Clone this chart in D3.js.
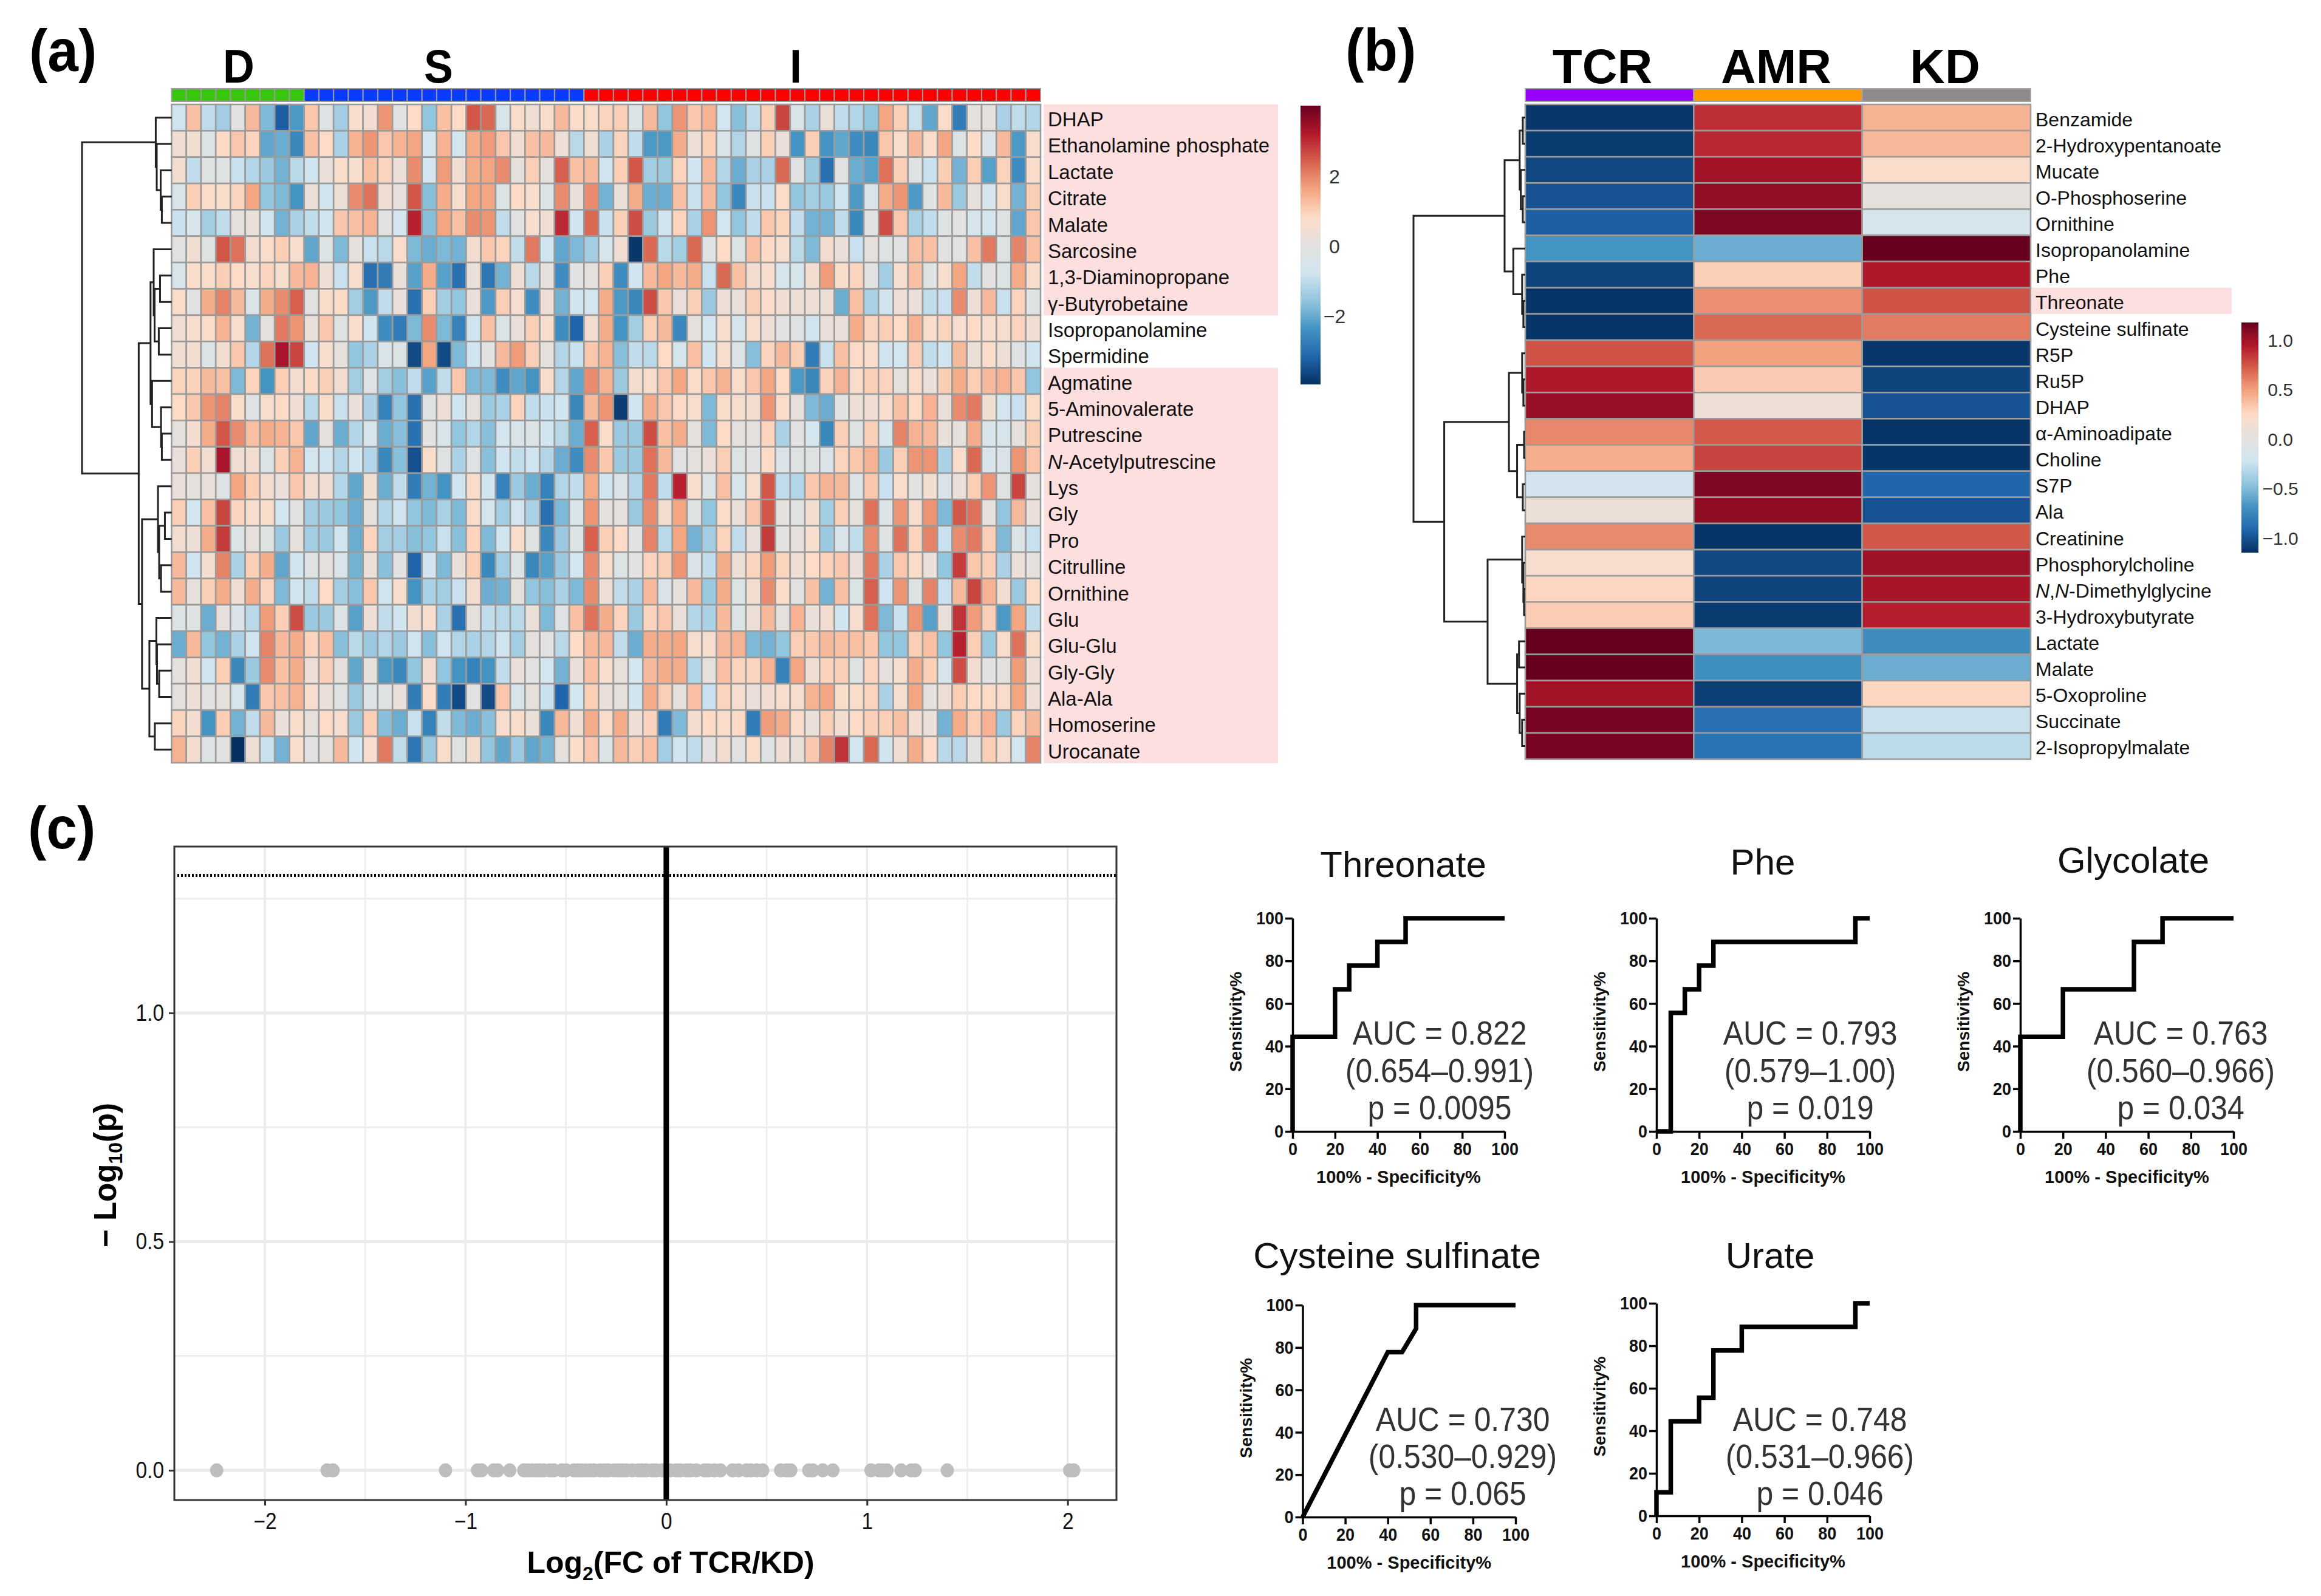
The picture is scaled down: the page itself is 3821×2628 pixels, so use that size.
<!DOCTYPE html>
<html><head><meta charset="utf-8">
<script src="https://cdnjs.cloudflare.com/ajax/libs/d3/7.8.5/d3.min.js"></script>
<style>html,body{margin:0;padding:0;background:#fff}svg{display:block}text{font-family:"Liberation Sans",Arial,sans-serif}</style>
</head><body><svg id="c" width="3821" height="2628" viewBox="0 0 3821 2628"></svg>
<script>
// ---------- panel (a) data ----------
const labelsA=["DHAP","Ethanolamine phosphate","Lactate","Citrate","Malate","Sarcosine","1,3-Diaminopropane","γ-Butyrobetaine","Isopropanolamine","Spermidine","Agmatine","5-Aminovalerate","Putrescine","N-Acetylputrescine","Lys","Gly","Pro","Citrulline","Ornithine","Glu","Glu-Glu","Gly-Gly","Ala-Ala","Homoserine","Urocanate"];
const pinkRowsA=[0,1,2,3,4,5,6,7,10,11,12,13,14,15,16,17,18,19,20,21,22,23,24];
const groupNamesA=["D","S","I"];
const groupCountsA=[9,19,31];
const rowDHAP=[-.8,1.2,-1,-1.4,-.1,1.3,-1.8,-3.3,-2.3,1.1,-.2,-1.4,.6,.5,1.8,-.2,.8,-1.6,1.2,.8,2.5,2.3,-.5,.7,.4,.7,1.3,.7,.7,.9,1,-.3,1.3,-1.6,1.8,1.1,1.4,-.7,-1.7,-1,1,2.7,-.4,-1.3,.2,-1,-1.2,-1.6,1.6,1,-.9,-2.1,.7,-2.8,.1,.1,-1.3,-1,-1.2];
const rowEtnP=[.4,.4,-.3,.8,1.1,.9,-2.1,-2,-2.6,1.2,.8,-1.3,1.4,1.8,1.1,1.4,1.6,-.7,1.4,-.7,1.5,1.7,1.1,.5,1.2,1.3,.3,-1.1,.4,-1.3,.9,-1,-2.3,-2.3,1.5,.3,1,-.5,-1.2,-.2,1,.2,-2.4,1,-2.4,-2.1,-2.5,-2.6,1.1,.7,1.3,.7,1.6,-.3,.8,-.4,1.3,-2.3,.6];
const rowLactate=[.5,-1,-.2,-.2,-.9,-1.2,-1.5,-1.9,-1.1,-.8,.2,.7,.6,1.2,.9,.3,1.9,-.7,1.7,.4,1.5,1.6,1.9,.1,1,.1,2.4,1.2,1.3,-.8,1,2.5,-1.4,-1.5,.9,-.8,1.3,-1.2,-2,-1.3,-1.3,2.3,-.1,-1.5,-3,-.1,-2,-2.2,2.2,1,-.2,-.9,1,-1.9,1,-2.2,.9,-2.5,.7];
const rowCitrate=[-.5,1,.7,.7,.9,1.6,-1.6,-1.8,-2.4,.2,-.8,.3,1.9,2.2,.4,.1,2.5,-1.7,1.5,.6,1.6,1.6,-.3,.8,.6,-.3,1.9,.2,1.9,-1.9,.2,1.5,-2,-2,1.2,-.9,1.3,-1.6,-2.6,-.9,-.9,.7,-1.6,-1.4,-1.5,-.8,-2.3,-.5,1.5,1.8,-2.3,-.2,1.3,-1.5,.1,-.6,.7,-1.9,1];
const rowMalate=[-.9,-.6,-1.4,-1,.1,.2,-.8,-1.9,-1.3,-1,-.8,1.1,1.2,1.4,-.1,-.7,3.1,-1.7,1.6,1.2,1.9,1.8,-1,-.1,.6,.4,3,-.8,2.3,-.9,1,2.6,-1.5,-.8,.9,-1.3,1.8,-.7,-1.6,-1,1.1,.9,-1,-1.9,-1.9,-1,-2.6,-.1,2.6,1.1,-1.3,-1,-.2,-.1,-.6,-.7,-.2,-2.1,1.1];
const rowSarcosine=[-.1,.4,-.2,2.5,2.2,.5,.7,1,.6,-2.1,-.3,-1.8,.1,-.9,-1.1,.7,-1.8,-2,-1.8,-1.9,.5,1.1,.9,-1,2.1,-.8,-2.1,-1.8,-1.4,-.6,.4,-3.9,2.3,-1.1,-1.4,2.3,-.2,.8,-.3,1.2,.8,.6,-1.1,-1.8,.5,.2,-.9,.1,-.2,-.1,1.2,1.2,-.1,-.1,1.2,2.1,-.2,2,1.2];
const rowDAP=[-.5,.7,.7,1,.8,.6,.9,.6,1.3,1.4,.3,-.9,.6,-3,-2.8,.2,-2.2,1.5,-2.2,-3,.2,-2.9,-1.9,.3,-1.1,.1,-2.5,-.1,.1,1,-2.5,-.8,1.3,1.6,1.3,1.5,-.9,2.3,1.2,.5,.6,-.6,-.6,.5,1.7,.7,.9,-.1,-1.4,.6,1.2,-.2,.6,1.6,-1,0,-.3,1.5,.6];
const rowGBB=[.7,-.1,1.5,2,1.3,-.4,1.5,1.9,2.4,0,.7,.8,-1.4,-2.3,-1,.2,-3,1,-1.4,-1.6,.2,-2.3,1,.6,-2.5,.3,-1.9,-.8,-.7,1.5,-2.3,-2.6,2.6,1.1,.2,1,-1.5,.3,.2,1,.7,.4,.3,.3,.3,-2,1.2,-1.3,-.8,.3,.2,-1,-.9,1.9,.3,1.3,-.9,.9,-.2];
const rowIsoprop=[.4,.6,.7,1.4,.6,-1.9,.1,2.1,1.8,.2,1.1,-.2,.7,-.8,-2.5,-2.8,-1.8,1.9,-1.8,-2.7,-.8,1.2,-.3,.2,1,.6,-2.5,-3.2,.5,1.5,-2.4,-1.4,1,1.3,-2.6,.1,-.7,.6,-.6,.6,.3,-.1,-.2,-.8,.2,.2,1.5,.9,1,.8,1.4,.7,.9,.6,.8,.6,.6,.9,.4];
const rowSpermidine=[.4,.5,-.3,.5,1.1,-1.2,2.2,3.3,2.7,-.8,.6,.1,-1.6,-1.3,-.5,-.3,-3.6,1.6,-3.6,-1.8,-.8,-.1,1.3,1.7,1,.1,-1.2,-.9,1.1,1.4,-1.7,-1,-1.1,.8,-.6,1.2,-.8,.6,-.3,-1.7,.9,1.3,1,-2.8,-.9,1.2,.8,.7,-.8,-.7,1,-1,-.8,1.3,.3,.7,.3,-.2,-.8];
const rowAgmatine=[.9,.9,1.3,1.2,-1.8,.9,-2.4,1,.5,.8,1,.5,-1.4,-.2,-1.4,-1.7,-1,-2.2,-1,1.1,-1.8,-1.8,-2.5,-2.1,-2.4,.6,-1.2,-2.1,1.9,1.4,-1.5,.5,.7,1.1,1.6,.7,1.1,1.4,.7,1.1,1.6,.8,-2.3,-2.6,.9,1.4,.7,1,.9,.1,.7,.2,1,1.5,1,1.3,1.4,1.1,-1.6];
const row5AV=[.8,1.1,1.8,2,.7,-.2,.6,.8,.4,-1.1,.7,-.9,.2,-1.3,-2.7,-1.6,-3,-.2,.3,-.8,.1,-1.5,-1.3,.9,-1,-.9,-.8,-2.6,1.3,1.8,-3.8,-.8,1.5,1.1,.8,.6,-1.8,.7,.6,.5,1.8,.7,.1,-1.8,-2,-.1,.3,.4,.6,1.2,.8,1.4,.2,1.9,2.1,.4,-.7,-.9,.7];
const rowPutrescine=[.1,.5,1.5,2.5,1.9,1.2,1.5,1.4,1.1,-2.1,0,-2,-1.2,-.6,-2,-1.7,-3,-.1,-.5,-1.6,-1.2,-1.7,-.7,-.5,-.3,-.8,-1.1,-2,2.4,.7,-1.5,-1.5,2.6,1.2,1.5,.1,-1.8,.8,.1,.1,.9,-1.3,-.1,-.7,-2.6,1,-.2,1,-.6,2,1.4,1.3,.2,.1,1.5,-.5,-.6,.1,1];
const rowNAP=[.2,1,.5,3.3,.4,.5,-.3,1,1.4,-.7,-.8,-1.2,-.8,-1.2,-2.6,-1.7,-3.5,.7,-.2,-1.3,-.2,-1.7,-.8,-1,-.8,-1.2,-2,-2.5,1.9,1.1,-1.5,-1.5,2.2,1.3,-.1,.1,.2,1,-.3,-.1,.8,-.4,-.2,-.2,-.4,.9,1.1,1.4,-1.5,1,1.8,1.8,-1.3,.7,2.3,-.5,-.4,1.8,1.1];
const rowLys=[.2,.1,.2,-.2,1.6,1,.5,.2,1.1,.5,.4,-1.2,-2.1,.4,-2,-1,-2.8,-1.9,-2.4,-.8,.7,-.8,-2.7,-1.5,-2,-2.7,-1.2,-1,1.5,-.8,-.4,-1.2,2.1,-1,3.1,.6,-.3,1.2,-.6,.6,2.5,-1,-1.2,1.1,1.4,1.3,-.3,1.1,-.9,.7,-.1,.5,-.4,.2,1,1.8,-.2,2.7,.1];
const rowGly=[1,-.7,1.2,2.7,.9,.6,.7,-.7,-.1,-1.4,-1.5,-1.6,-2,.1,-1.2,-.8,-1.6,-1.8,-1.3,-1.8,.7,-.7,-1.4,-.7,-1.3,-3,-1.8,-.5,1.8,.1,.1,-1.5,1.9,.5,1.6,-.2,-1.6,.7,.2,1.1,2.5,.1,-.1,.5,-1.4,1,.1,2.2,-.3,1.8,.6,1.8,-1.8,2.5,2.2,.1,-1.6,1.3,.2];
const rowPro=[.5,.3,1.5,2.8,-.3,.1,-.2,-1.5,.1,-1.4,-1.5,-.8,-2,.9,-1.4,-1.4,-1.7,-1.6,-.9,-1.7,.9,-1.8,-.8,.7,-.2,-2.6,-1.5,-.3,2.4,1,.8,-.1,2,-1.1,1.6,-1.9,-1.4,.9,-1,.2,2.8,-.1,.1,.6,-1.5,-.5,-1,1.9,-.2,2.2,.9,2,-.9,1.9,2.1,1,-1.8,-.3,-.9];
const rowCitrulline=[1.3,-.8,.5,2,-1.3,1,1.5,-2.1,-.8,-.2,.1,-.5,-1.9,.2,-1.7,-.1,-3.2,-.8,-1.8,.2,1,-2.6,-1.4,-.3,-2.6,-2.2,-1.5,-.7,1.9,.6,-.3,-.1,.9,1,1.8,-.4,-1,1.5,.3,.9,1.7,.9,.4,.8,.9,1.1,.2,2.1,-1.3,1.1,.7,.2,-1.6,2.8,1.1,1,-1.3,.2,.1];
const rowOrnithine=[1.3,.1,1,1.5,.4,1.5,.9,-1.8,-.8,-1,.8,-1.4,-1.7,1.1,-.8,.6,-2.4,-1.3,-1.4,-.9,.5,-2,-1.9,.1,-1.6,-1.7,-1.3,-1.8,1.9,.3,-1,-1.3,1.3,-.4,.1,1.3,-1.5,1.5,-.3,.5,1.9,.7,-.1,1.2,-1.9,1.2,-.3,2.4,-.8,1.8,-.2,2,-.9,1.3,2.7,1.4,.5,-1.5,.7];
const rowGlu=[-.3,-.2,-2,.1,-.4,-1.1,1.7,1,2.6,-1.5,-1.5,-.3,-2.2,.3,-1,-.8,.5,.6,-1.3,-3,.1,-1,-1.1,-1.1,.2,-1.8,-.2,1.2,2.2,1.5,.9,-1.5,.9,1.1,.2,-1.2,-1.3,1.3,-.3,.3,1.3,.1,1.4,.2,.5,-.8,.6,2.2,-1.8,-.9,1.8,-2.2,.2,2.9,1.7,1,-2.3,1.6,-1];
const rowGluGlu=[-2,1.3,-1.6,-1.9,-1.3,-.8,2,1.3,1.5,.9,1.2,-1.7,-1.1,-1.5,-1.2,-1.5,-.8,-1.7,-.8,-1.2,-1.3,-1.2,-.8,-1.4,.1,-.1,-1.1,.8,1.3,1.3,-1,-2,1.5,1.5,1.6,.6,.6,1.3,1.4,-1.8,-1.9,-1.6,1,1.1,1.3,1.2,1.2,1.1,-1.6,-1.6,1,1.2,-1.6,3.1,1,-1.5,.7,2.2,.7];
const rowGlyGly=[.1,.4,-.8,1,-2.6,-1.5,1.9,1.2,1.5,.3,1,.1,-2.1,.1,-2.3,-2.6,-1.6,.5,-1.6,-2.4,-2.7,-2.4,-1,.2,-.1,-.7,-1.9,.2,1.2,.6,.1,-.7,1.3,1.5,1.5,-1.2,.1,1.2,.9,.9,1.4,-2.7,1.6,.4,.9,1,-.2,.9,.1,.6,1.5,1,-.6,2.6,.5,-.1,.1,1.7,.3];
const rowAlaAla=[.1,.3,-.1,.1,-.6,-2.8,1.1,1.2,1.4,.6,.2,-.2,-1.5,-.3,-.2,.2,-2.8,.7,-2.8,-3.6,-.1,-3.6,1.1,-.5,.1,-.9,-3.2,-.7,1,.2,.1,-.8,1.5,1,.1,1.2,-.9,.9,.6,.2,.5,.6,.6,1.4,1.6,.7,.7,.9,-1.3,.6,1.6,.1,.3,1,.8,.8,.7,1.6,.3];
const rowHomoserine=[.9,.5,-2.4,1,-1.9,-1,1.3,.2,.7,.1,.8,.6,-1.5,1,-1.7,-2,-.9,-2.7,-1,-1.8,-2,-1.7,.6,.7,.2,-2.6,1.3,.4,1.5,.7,1.5,.3,.9,-2.8,-1.8,.5,.8,.7,.8,-2.8,1.7,1.5,.7,.2,1,.5,.8,1,1,1.2,.5,.2,-1.9,1.5,1,1.4,-1.5,.9,1.3];
const rowUrocanate=[1.4,.5,-.2,-.1,-4,.3,-.9,-1.9,.6,-.1,.1,1.3,-.8,.6,2.1,-1,-2.9,-1.5,.7,-.2,.5,-1.6,-2.1,-1.5,-2.1,-1.9,.1,.7,1.1,-.3,1.3,1,1.2,-1.4,-.8,-1,0,.5,-.1,.7,-.2,.4,.2,1.1,2,2.9,-.7,2.3,-.8,.4,1.5,.8,-1.1,-1.1,-.1,1,.6,-.7,2];
const heatA=[rowDHAP,rowEtnP,rowLactate,rowCitrate,rowMalate,rowSarcosine,rowDAP,rowGBB,rowIsoprop,rowSpermidine,rowAgmatine,row5AV,rowPutrescine,rowNAP,rowLys,rowGly,rowPro,rowCitrulline,rowOrnithine,rowGlu,rowGluGlu,rowGlyGly,rowAlaAla,rowHomoserine,rowUrocanate];
const ticksBarA=[2,0,-2];
// dendrogram: [height, child, child]; a number is a row index
const treeA=[1,
 [.177,0,[.166,1,[.122,2,[.109,3,4]]]],
 [.367,
  [.235,[.2,5,[.19,[.129,6,7],[.143,8,9]]],[.218,10,[.118,11,[.109,12,13]]]],
  [.33,[.152,14,[.139,[.075,15,16],[.118,17,18]]],[.248,[.17,19,[.163,20,[.139,21,22]]],[.187,23,24]]]]];

// ---------- panel (b) data ----------
const labelsB=["Benzamide","2-Hydroxypentanoate","Mucate","O-Phosphoserine","Ornithine","Isopropanolamine","Phe","Threonate","Cysteine sulfinate","R5P","Ru5P","DHAP","α-Aminoadipate","Choline","S7P","Ala","Creatinine","Phosphorylcholine","N,N-Dimethylglycine","3-Hydroxybutyrate","Lactate","Malate","5-Oxoproline","Succinate","2-Isopropylmalate"];
const groupsB=["TCR","AMR","KD"];
const valuesTCR=[-1.12,-1.1,-1.05,-1.0,-.95,-.69,-1.07,-1.13,-1.13,.73,.93,1.0,.56,.42,-.2,.08,.55,.17,.25,.29,1.15,1.15,.97,1.1,1.1];
const valuesAMR=[.85,.87,.97,1.02,1.08,-.57,.28,.53,.66,.47,.3,.1,.71,.78,1.08,1.03,-1.13,-1.05,-1.07,-1.1,-.52,-.71,-1.08,-.87,-.85];
const valuesKD=[.4,.38,.2,.03,-.17,1.15,.93,.73,.6,-1.12,-1.07,-1.0,-1.13,-1.13,-.92,-1.0,.72,.98,.95,.9,-.72,-.57,.25,-.26,-.3];
const ticksBarB=[1,.5,0,-.5,-1];
const treeB=[1,
 [.185,[.05,[.022,0,1],[.04,2,[.022,3,4]]],[.107,5,[.028,6,[.017,7,8]]]],
 [.725,
  [.146,[.028,9,[.017,10,11]],[.073,[.011,12,13],[.022,14,15]]],
  [.337,[.028,16,[.017,17,[.011,18,19]]],[.073,[.056,20,21],[.05,22,[.028,23,24]]]]]];

// ---------- panel (c) data ----------
const fcValues=[-2.24,-1.69,-1.66,-1.1,-.94,-.92,-.86,-.84,-.78,-.71,-.69,-.67,-.65,-.63,-.61,-.58,-.56,-.52,-.5,-.46,-.44,-.42,-.4,-.38,-.36,-.33,-.31,-.29,-.26,-.24,-.22,-.2,-.17,-.14,-.12,-.1,-.07,-.05,-.02,.02,.05,.07,.1,.12,.15,.19,.21,.24,.27,.33,.36,.4,.42,.45,.48,.57,.6,.62,.71,.73,.78,.83,1.02,1.06,1.08,1.1,1.17,1.22,1.24,1.4,2.01,2.03];
const volcanoXTicks=[-2,-1,0,1,2];
const volcanoYTicks=[0,.5,1];
const volcanoXMinor=[-1.5,-.5,.5,1.5];
const volcanoYMinor=[.25,.75,1.25];
const pThreshold=1.301;
const rocTicks=[0,20,40,60,80,100];
const rocThreonateX=[0,0,20,20,26.7,26.7,40,40,53.3,53.3,100];
const rocThreonateY=[0,44.4,44.4,66.7,66.7,77.8,77.8,88.9,88.9,100,100];
const rocPheX=[0,6.7,6.7,13.3,13.3,20,20,26.7,26.7,93.3,93.3,100];
const rocPheY=[0,0,55.6,55.6,66.7,66.7,77.8,77.8,88.9,88.9,100,100];
const rocGlycolateX=[0,0,20,20,53.3,53.3,66.7,66.7,100];
const rocGlycolateY=[0,44.4,44.4,66.7,66.7,88.9,88.9,100,100];
const rocCysteineX=[0,40,46.7,53.3,53.3,100];
const rocCysteineY=[0,77.8,77.8,88.9,100,100];
const rocUrateX=[0,0,6.7,6.7,20,20,26.7,26.7,40,40,93.3,93.3,100];
const rocUrateY=[0,11.1,11.1,44.4,44.4,55.6,55.6,77.8,77.8,88.9,88.9,100,100];

const rdbu=["#053061","#2166ac","#4393c3","#92c5de","#d1e5f0","#e3e1df","#fddbc7","#f4a582","#d6604d","#b2182b","#67001f"];
const svg=d3.select("#c");
svg.append("rect").attr("width",3821).attr("height",2628).attr("fill","#fff");

function colorFor(lim){
  return d3.scaleLinear().domain(d3.range(11).map(i=>-lim+i*lim/5)).range(rdbu).interpolate(d3.interpolateRgb).clamp(true);
}
function addLabel(sel,s){
  const m=s.match(/^(N,N|N)(-.*)$/);
  if(!m){sel.text(s);return;}
  if(m[1]==="N"){sel.append("tspan").attr("font-style","italic").text("N");}
  else{sel.append("tspan").attr("font-style","italic").text("N");sel.append("tspan").text(",");sel.append("tspan").attr("font-style","italic").text("N");}
  sel.append("tspan").text(m[2]);
}
function drawTree(g,tree,xS,yS){
  function walk(n){
    if(typeof n==="number")return {y:yS(n)+yS.bandwidth()/2,x:xS(0)};
    const a=walk(n[1]),b=walk(n[2]);const x=xS(n[0]);
    const p=d3.path();p.moveTo(a.x,a.y);p.lineTo(x,a.y);p.lineTo(x,b.y);p.lineTo(b.x,b.y);
    g.append("path").attr("d",p.toString()).attr("fill","none").attr("stroke","#222").attr("stroke-width",3);
    return {y:(a.y+b.y)/2,x};
  }
  walk(tree);
}
function colorbar(id,x,y,w,h,lim,color,ticks,yZero,unit,tx,fs){
  const grad=svg.append("defs").append("linearGradient").attr("id",id).attr("x1",0).attr("x2",0).attr("y1",1).attr("y2",0);
  d3.range(41).forEach(i=>grad.append("stop").attr("offset",i/40).attr("stop-color",color(-lim+2*lim*i/40)));
  svg.append("rect").attr("x",x).attr("y",y).attr("width",w).attr("height",h).attr("fill",`url(#${id})`);
  const s=d3.scaleLinear().domain([0,1]).range([yZero,yZero-unit]);
  svg.append("g").selectAll("text").data(ticks).join("text").attr("x",tx).attr("y",d=>s(d)).attr("dy",".36em")
    .attr("text-anchor","middle").attr("font-size",fs).attr("fill","#333")
    .text(d=>id==="barA"?String(d).replace("-","−"):d3.format(".1f")(d).replace("-","−"));
}
// squeeze axis tick text horizontally, keeping its anchor point
function squeeze(sel,k){
  sel.each(function(){
    const t=d3.select(this),x=+t.attr("x")||0;
    t.attr("x",0).attr("transform",`translate(${x},0) scale(${k},1)`);
  });
}

// ---------- panel a ----------
const colsA=d3.range(59);
const xA=d3.scaleBand().domain(colsA).range([282.5,1713]);
const yA=d3.scaleBand().domain(d3.range(25)).range([172,1256]);
const colorA=colorFor(4);
const gA=svg.append("g");
gA.selectAll("rect.p").data(pinkRowsA).join("rect").attr("class","p").attr("x",1718).attr("width",386)
  .attr("y",d=>yA(d)).attr("height",yA.bandwidth()+.5).attr("fill","#fedfdf");
heatA.forEach((row,r)=>{
  gA.append("g").selectAll("rect").data(row).join("rect")
   .attr("x",(d,i)=>xA(i)).attr("y",yA(r)).attr("width",xA.bandwidth()).attr("height",yA.bandwidth())
   .attr("fill",d=>colorA(d)).attr("stroke","#9b9b9b").attr("stroke-width",2.6);
});
let cum=0;const annColorsA=["#36c70e","#0a3cff","#ff0000"];
groupCountsA.forEach((n,gi)=>{
  const cols=d3.range(cum,cum+n);
  gA.append("g").selectAll("rect").data(cols).join("rect").attr("x",d=>xA(d)).attr("y",146).attr("width",xA.bandwidth()).attr("height",21)
    .attr("fill",annColorsA[gi]).attr("stroke","#9b9b9b").attr("stroke-width",2);
  cum+=n;
});
[[393,"D"],[722,"S"],[1310,"I"]].forEach(([x,t])=>svg.append("text").attr("transform",`translate(${x},136) scale(.92,1)`).attr("text-anchor","middle").attr("font-weight","bold").attr("font-size",78).text(t));
gA.selectAll("text.l").data(labelsA).join("text").attr("class","l").attr("x",1725).attr("y",(d,i)=>yA(i)+yA.bandwidth()/2+2.5).attr("dy",".36em")
  .attr("font-size",33).attr("fill","#111").each(function(d){addLabel(d3.select(this),d);});
drawTree(svg.append("g"),treeA,d3.scaleLinear().domain([0,1]).range([282.5,135]),yA);
colorbar("barA",2141,174,33,459,4,colorA,ticksBarA,405,57.5,2197,32);

// ---------- panel b ----------
const xB=d3.scaleBand().domain(groupsB).range([2511,3343]);
const yB=d3.scaleBand().domain(d3.range(25)).range([172,1250]);
const colorB=colorFor(1.15);
const gB=svg.append("g");
gB.append("rect").attr("x",3345).attr("y",yB(7)).attr("width",329).attr("height",yB.bandwidth()).attr("fill","#fedfdf");
[valuesTCR,valuesAMR,valuesKD].forEach((vals,ci)=>{
  gB.append("g").selectAll("rect").data(vals).join("rect").attr("x",xB(groupsB[ci])).attr("y",(d,i)=>yB(i))
    .attr("width",xB.bandwidth()).attr("height",yB.bandwidth()).attr("fill",d=>colorB(d)).attr("stroke","#9b9b9b").attr("stroke-width",2.6);
});
const annColorsB=["#9900ff","#ff9900","#8f8a8a"];
gB.selectAll("rect.a").data(groupsB).join("rect").attr("class","a").attr("x",d=>xB(d)).attr("y",146).attr("width",xB.bandwidth()).attr("height",21)
  .attr("fill",(d,i)=>annColorsB[i]).attr("stroke","#a5a5a5").attr("stroke-width",2);
[[2638,"TCR"],[2924,"AMR"],[3202,"KD"]].forEach(([x,t])=>svg.append("text").attr("x",x).attr("y",137).attr("text-anchor","middle").attr("font-weight","bold").attr("font-size",80).text(t));
gB.selectAll("text.l").data(labelsB).join("text").attr("class","l").attr("x",3351).attr("y",(d,i)=>yB(i)+yB.bandwidth()/2+2.5).attr("dy",".36em")
  .attr("font-size",32).attr("fill","#111").each(function(d){addLabel(d3.select(this),d);});
drawTree(svg.append("g"),treeB,d3.scaleLinear().domain([0,1]).range([2511,2327]),yB);
colorbar("barB",3690,531,28,379,1.15,colorB,ticksBarB,723,163,3754,30);

// panel letters
[[48,117,"(a)"],[2215,116,"(b)"],[46,1397,"(c)"]].forEach(([x,y,t])=>svg.append("text").attr("transform",`translate(${x},${y}) scale(.93,1)`).attr("font-weight","bold").attr("font-size",98).text(t));

// ---------- panel c: volcano ----------
const vx=d3.scaleLinear().domain([-2.451,2.243]).range([287,1838]);
const vy=d3.scaleLinear().domain([-.065,1.364]).range([2470,1394]);
const gV=svg.append("g");
gV.selectAll("line.hm").data(volcanoYMinor).join("line").attr("class","hm").attr("x1",287).attr("x2",1838).attr("y1",d=>vy(d)).attr("y2",d=>vy(d)).attr("stroke","#ededed").attr("stroke-width",3);
gV.selectAll("line.vm").data(volcanoXMinor).join("line").attr("class","vm").attr("y1",1394).attr("y2",2470).attr("x1",d=>vx(d)).attr("x2",d=>vx(d)).attr("stroke","#ededed").attr("stroke-width",2.5);
gV.selectAll("line.hM").data(volcanoYTicks).join("line").attr("class","hM").attr("x1",287).attr("x2",1838).attr("y1",d=>vy(d)).attr("y2",d=>vy(d)).attr("stroke","#ebebeb").attr("stroke-width",5);
gV.selectAll("line.vM").data(volcanoXTicks).join("line").attr("class","vM").attr("y1",1394).attr("y2",2470).attr("x1",d=>vx(d)).attr("x2",d=>vx(d)).attr("stroke","#ebebeb").attr("stroke-width",3.5);
gV.selectAll("ellipse").data(fcValues).join("ellipse").attr("cx",d=>vx(d)).attr("cy",vy(0)).attr("rx",11).attr("ry",11.5).attr("fill","#bebebe");
gV.append("line").attr("x1",vx(0)).attr("x2",vx(0)).attr("y1",1394).attr("y2",2470).attr("stroke","#000").attr("stroke-width",9);
gV.append("line").attr("x1",292).attr("x2",1838).attr("y1",vy(pThreshold)).attr("y2",vy(pThreshold)).attr("stroke","#000").attr("stroke-width",5).attr("stroke-dasharray","3 3");
gV.append("rect").attr("x",287).attr("y",1394).attr("width",1551).attr("height",1076).attr("fill","none").attr("stroke","#333").attr("stroke-width",3);
const axVX=gV.append("g").attr("transform","translate(0,2470)").call(d3.axisBottom(vx).tickValues(volcanoXTicks).tickSize(9).tickPadding(12).tickFormat(d=>String(d).replace("-","−")));
const axVY=gV.append("g").attr("transform","translate(287,0)").call(d3.axisLeft(vy).tickValues(volcanoYTicks).tickSize(9).tickPadding(8).tickFormat(d3.format(".1f")));
[axVX,axVY].forEach(a=>{a.select(".domain").remove();a.selectAll("line").attr("stroke","#333").attr("stroke-width",3);
  a.selectAll("text").attr("font-size",38).attr("fill","#111").call(squeeze,.88);});
const xl=gV.append("text").attr("x",1104).attr("y",2590).attr("text-anchor","middle").attr("font-weight","bold").attr("font-size",50);
xl.append("tspan").text("Log");xl.append("tspan").attr("font-size",32).attr("dy",12).text("2");xl.append("tspan").attr("dy",-12).text("(FC of TCR/KD)");
const yl=gV.append("text").attr("transform","translate(191,1935) rotate(-90)").attr("text-anchor","middle").attr("font-weight","bold").attr("font-size",51);
yl.append("tspan").text("− Log");yl.append("tspan").attr("font-size",32).attr("dy",10).text("10");yl.append("tspan").attr("dy",-10).text("(p)");

// ---------- panel c: ROC ----------
const rocPanels=[
 {t:"Threonate",fx:rocThreonateX,fy:rocThreonateY,x:[2128,2477],y:[1863,1512],tx:2310,ty:1444,cx:2370,by:[1720,1782,1843],s:["AUC = 0.822","(0.654–0.991)","p = 0.0095"]},
 {t:"Phe",fx:rocPheX,fy:rocPheY,x:[2727,3078],y:[1863,1512],tx:2902,ty:1440,cx:2980,by:[1720,1782,1843],s:["AUC = 0.793","(0.579–1.00)","p = 0.019"]},
 {t:"Glycolate",fx:rocGlycolateX,fy:rocGlycolateY,x:[3326,3677],y:[1863,1512],tx:3512,ty:1437,cx:3590,by:[1720,1782,1843],s:["AUC = 0.763","(0.560–0.966)","p = 0.034"]},
 {t:"Cysteine sulfinate",fx:rocCysteineX,fy:rocCysteineY,x:[2144.5,2495],y:[2498,2149],tx:2300,ty:2088,cx:2408,by:[2356,2417,2478],s:["AUC = 0.730","(0.530–0.929)","p = 0.065"]},
 {t:"Urate",fx:rocUrateX,fy:rocUrateY,x:[2727,3078],y:[2496,2146],tx:2914,ty:2088,cx:2996,by:[2356,2417,2478],s:["AUC = 0.748","(0.531–0.966)","p = 0.046"]}
];
rocPanels.forEach(p=>{
  const g=svg.append("g");
  const sx=d3.scaleLinear().domain([0,100]).range(p.x),sy=d3.scaleLinear().domain([0,100]).range(p.y);
  const ax=g.append("g").attr("transform",`translate(0,${p.y[0]})`).call(d3.axisBottom(sx).tickValues(rocTicks).tickSize(12).tickSizeOuter(0).tickPadding(6));
  const ay=g.append("g").attr("transform",`translate(${p.x[0]},0)`).call(d3.axisLeft(sy).tickValues(rocTicks).tickSize(12).tickSizeOuter(0).tickPadding(3));
  [ax,ay].forEach(a=>{a.selectAll("path,line").attr("stroke","#000").attr("stroke-width",3.5);
    a.selectAll("text").attr("font-weight","bold").attr("font-size",30).attr("fill","#111").call(squeeze,.9);});
  const line=d3.line().x(i=>sx(p.fx[i])).y(i=>sy(p.fy[i]));
  g.append("path").attr("d",line(d3.range(p.fx.length))).attr("fill","none").attr("stroke","#000").attr("stroke-width",7.5).attr("stroke-linejoin","miter");
  g.append("text").attr("x",p.tx).attr("y",p.ty).attr("text-anchor","middle").attr("font-size",60).attr("fill","#111").text(p.t);
  g.selectAll("text.st").data(p.s).join("text").attr("class","st").attr("transform",(d,i)=>`translate(${p.cx},${p.by[i]}) scale(.89,1)`).attr("text-anchor","middle")
    .attr("font-family","Roboto,'Liberation Sans'").attr("font-weight",300).attr("font-size",56).attr("fill","#333").text(d=>d);
  g.append("text").attr("x",(p.x[0]+p.x[1])/2).attr("y",p.y[0]+85).attr("text-anchor","middle").attr("font-weight","bold").attr("font-size",29).attr("fill","#111").text("100% - Specificity%");
  g.append("text").attr("transform",`translate(${p.x[0]-84},${(p.y[0]+p.y[1])/2-5}) rotate(-90)`).attr("text-anchor","middle").attr("font-weight","bold").attr("font-size",28).attr("fill","#111").text("Sensitivity%");
});
</script></body></html>
